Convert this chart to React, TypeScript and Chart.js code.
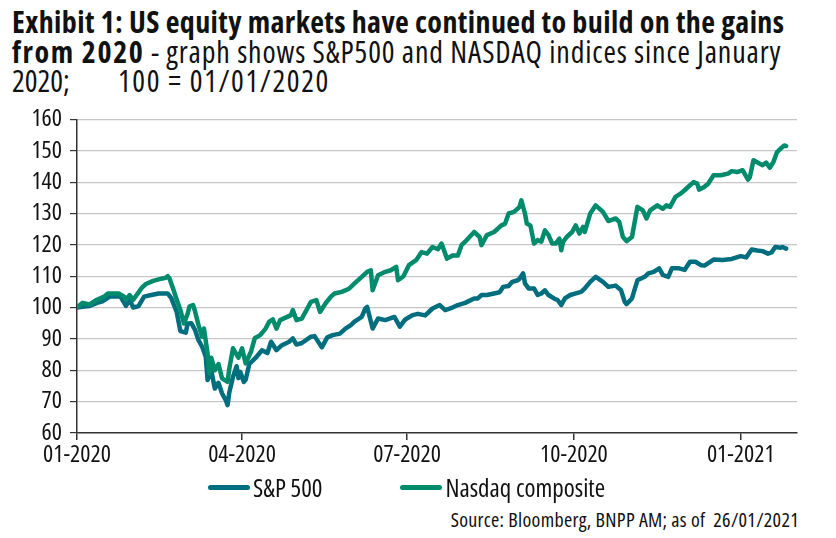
import React, { useEffect, useRef } from "react";
import { Chart, registerables } from "chart.js";

Chart.register(...registerables);

// x axis: days since 01/01/2020
const tickDays = [0, 91, 182, 274, 366];
const tickLabels = ["01-2020", "04-2020", "07-2020", "10-2020", "01-2021"];
const yMin = 60;
const yMax = 160;
const yStep = 10;

const seriesNames = ["S&P 500", "Nasdaq composite"];

const spDays = [
  0, 4, 7, 11, 14, 18, 24, 27, 29, 31, 34, 37, 41, 45, 50, 52, 55, 57, 60, 61,
  63, 65, 67, 69, 71, 72, 74, 76, 78, 80, 82, 83, 84, 86, 88, 89, 90, 92, 93, 95,
  99, 102, 105, 107, 110, 113, 117, 119, 121, 124, 129, 131, 135, 138, 141, 145, 148, 151, 153, 157,
  159, 160, 163, 166, 170, 175, 178, 181, 185, 188, 192, 196, 200, 203, 207, 210, 214, 219, 221, 223,
  226, 230, 233, 235, 238, 240, 243, 244, 246, 247, 249, 252, 254, 256, 258, 260, 263, 265, 267, 269,
  272, 275, 278, 280, 283, 286, 290, 293, 297, 300, 302, 303, 306, 309, 313, 315, 318, 321, 323, 326,
  328, 332, 335, 338, 341, 344, 346, 351, 356, 361, 366, 369, 372, 375, 378, 381, 383, 385, 388, 389,
  391,
];
const spValues = [
  100, 100.3, 100.5, 101.5, 102, 103.5, 103.5, 100.5, 102.5, 100, 100.5, 103.5, 104, 104.5, 104.5, 103, 98.5, 92.5, 92, 94.9,
  95, 93, 89.6, 87.5, 84.3, 76.9, 80, 74.2, 76, 72.6, 70.5, 68.9, 73, 77.9, 81.3, 77.5, 79.5, 76.3, 77, 82,
  84.3, 86.4, 85.5, 89.1, 86.4, 88, 89.1, 90.2, 88.2, 88.7, 90.7, 90.9, 87.3, 90.5, 91.2, 91.7, 93.3, 94.4, 95.5, 97,
  99.7, 100.2, 93.3, 96.5, 96, 97, 93.9, 96.2, 97.6, 98, 97.5, 99.7, 100.8, 99.2, 100, 100.8, 101.5, 102.9, 102.9, 104,
  104, 104.5, 104.9, 106.6, 106.9, 108.2, 108.7, 109.2, 110.9, 107.7, 106.1, 106.1, 104, 104.5, 105.5, 104, 102.9, 102.4, 100.8, 102.9,
  104, 104.5, 105, 106.1, 108.2, 109.8, 108.2, 106.6, 107, 105.5, 101.8, 101.1, 102.9, 108.7, 109.8, 110.9, 111.4, 112.5, 110.4, 109.8,
  112.5, 112.5, 112, 114.6, 114.6, 113.5, 113.4, 115.3, 115.2, 115.5, 116.4, 116, 118.5, 118.2, 118, 117.2, 117.6, 119.3, 119.1, 119.3,
  118.8,
];

const nqDays = [
  0, 3, 7, 11, 15, 17, 23, 26, 27, 29, 31, 36, 38, 42, 45, 49, 50, 51, 53, 55,
  57, 59, 61, 62, 64, 65, 67, 69, 70, 72, 73, 74, 76, 78, 80, 83, 84, 86, 89, 91,
  93, 96, 98, 101, 104, 106, 108, 110, 112, 115, 118, 119, 121, 124, 129, 132, 134, 137, 140, 142,
  146, 150, 153, 157, 160, 162, 163, 166, 170, 173, 176, 177, 180, 183, 187, 190, 193, 196, 199, 201,
  204, 207, 210, 212, 214, 219, 222, 223, 226, 230, 234, 236, 238, 241, 244, 245, 247, 248, 250, 252,
  254, 256, 258, 260, 262, 264, 266, 267, 268, 270, 273, 275, 277, 279, 280, 283, 286, 290, 293, 297,
  299, 301, 303, 306, 309, 312, 314, 316, 320, 323, 325, 327, 330, 333, 335, 338, 340, 342, 343, 346,
  348, 351, 355, 359, 361, 364, 367, 370, 371, 373, 376, 378, 380, 382, 384, 386, 388, 390, 391,
];
const nqValues = [
  100, 101.5, 101, 102.5, 103.5, 104.5, 104.5, 103.5, 102.5, 104, 102.5, 106.5, 107.5, 108.5, 109, 109.5, 110, 109.3, 106, 102.5,
  99.2, 94.9, 98, 100.3, 100.8, 99, 94.4, 90.7, 93.3, 85.4, 79, 84, 80, 82, 77.4, 76.3, 80.6, 87, 84, 87,
  82.2, 86, 90.2, 91.2, 93.3, 95.5, 96.2, 93.3, 96, 96.8, 97.6, 99.2, 96, 96.5, 101.8, 102.4, 98.6, 101.3, 103.5, 104.5,
  105, 106, 107.7, 109.8, 111.4, 111.9, 105.5, 110.3, 111.4, 111.9, 113, 108.7, 110, 113.5, 115.1, 117.7, 117.2, 119.3, 118.6, 120.4,
  115.6, 116.6, 116.6, 119.9, 121, 124.1, 122.5, 119.9, 123.1, 124.1, 126.2, 126.7, 130, 130.5, 132.1, 134.2, 130, 126.8, 126.2, 120.4,
  121.5, 121, 124.6, 123.1, 120.4, 120.4, 122, 118.3, 120.9, 122.5, 124.1, 126.2, 123.6, 125.7, 124.1, 130, 132.6, 130.5, 127.6, 128.4,
  127.3, 122.5, 121.2, 122.5, 132.1, 131, 128.4, 131, 132.6, 131.5, 132.6, 132.1, 135.3, 136.4, 137.4, 139, 140, 139.5, 137.6, 138.5,
  139.5, 142.2, 142.2, 142.7, 143.5, 143.2, 143.8, 140.8, 141.6, 147, 146, 145.4, 146.2, 144.6, 146.4, 149.6, 150.7, 151.7, 151.5,
];

const spColor = "#006e7e";
const nqColor = "#008b6d";
const FAMILY = '"Open Sans", "DejaVu Sans Condensed", sans-serif';

export default function App() {
  const canvasRef = useRef<HTMLCanvasElement | null>(null);

  useEffect(() => {
    const canvas = canvasRef.current;
    if (!canvas) return;
    const tickFont = { family: FAMILY, size: 24, weight: "condensed" as any };
    const chart = new Chart(canvas, {
      type: "line",
      data: {
        datasets: [
          {
            label: seriesNames[0],
            data: spDays.map((d, i) => ({ x: d, y: spValues[i] })),
            borderColor: spColor,
            backgroundColor: spColor,
            borderWidth: 4.5,
            pointRadius: 0,
            tension: 0,
            borderJoinStyle: "round",
            borderCapStyle: "round",
            order: 1,
          },
          {
            label: seriesNames[1],
            data: nqDays.map((d, i) => ({ x: d, y: nqValues[i] })),
            borderColor: nqColor,
            backgroundColor: nqColor,
            borderWidth: 4.5,
            pointRadius: 0,
            tension: 0,
            borderJoinStyle: "round",
            borderCapStyle: "round",
            order: 0,
          },
        ],
      },
      options: {
        animation: false,
        responsive: false,
        maintainAspectRatio: false,
        layout: { padding: { top: 17, right: 39, left: 0, bottom: 0 } },
        plugins: {
          legend: { display: false },
          tooltip: { enabled: false },
          title: { display: false },
        },
        scales: {
          x: {
            type: "linear",
            min: 0,
            max: 397,
            afterBuildTicks: (scale: any) => {
              scale.ticks = tickDays.map((v) => ({ value: v }));
            },
            afterFit: (scale: any) => {
              scale.height = 42;
            },
            ticks: {
              autoSkip: false,
              maxRotation: 0,
              minRotation: 0,
              padding: 1,
              color: "#111111",
              font: tickFont,
              callback: (v: any) => {
                const i = tickDays.indexOf(Number(v));
                return i >= 0 ? tickLabels[i] : "";
              },
            },
            grid: {
              drawOnChartArea: false,
              drawTicks: true,
              tickLength: 7,
              color: "#333333",
              lineWidth: 1.5,
            },
            border: { display: true, color: "#333333", width: 1.5 },
          },
          y: {
            type: "linear",
            min: yMin,
            max: yMax,
            afterFit: (scale: any) => {
              scale.width = 77;
            },
            ticks: {
              stepSize: yStep,
              autoSkip: false,
              maxTicksLimit: 20,
              padding: 8,
              color: "#111111",
              font: tickFont,
            },
            grid: {
              color: (ctx: any) => (ctx.tick && ctx.tick.value === yMin ? "rgba(0,0,0,0)" : "#c6c6c6"),
              lineWidth: 1.2,
              drawTicks: true,
              tickLength: 7,
              tickColor: "#333333",
            },
            border: { display: true, color: "#333333", width: 1.5 },
          },
        },
      },
    });
    return () => chart.destroy();
  }, []);

  const boldStyle: React.CSSProperties = { fontWeight: 700, letterSpacing: "0.4px" };
  const legendLine = (c: string): React.CSSProperties => ({
    display: "inline-block",
    width: 42,
    height: 5,
    borderRadius: 3,
    background: c,
    verticalAlign: "middle",
    marginRight: 3,
  });

  return (
    <div
      style={{
        position: "absolute",
        left: 0,
        top: 0,
        width: 836,
        height: 538,
        background: "#ffffff",
        fontFamily: FAMILY,
        fontStretch: "condensed",
        color: "#111111",
        overflow: "hidden",
      }}
    >
      <div
        style={{
          position: "absolute",
          left: 12,
          top: 7,
          width: 824,
          fontSize: 30,
          lineHeight: "29.5px",
          whiteSpace: "pre",
        }}
      >
        <div>
          <span style={boldStyle}>Exhibit 1: US equity markets have continued to build on the gains</span>
        </div>
        <div>
          <span style={{ fontWeight: 700, letterSpacing: "1.6px" }}>from 2020</span>
          <span style={{ letterSpacing: "0.85px" }}> - graph shows S&amp;P500 and NASDAQ indices since January</span>
        </div>
        <div>
          <span style={{ display: "inline-block", width: 106 }}>2020;</span>
          <span style={{ letterSpacing: "1.6px" }}>100 = 01/01/2020</span>
        </div>
      </div>
      <canvas
        ref={canvasRef}
        width={836}
        height={378}
        style={{ position: "absolute", left: 0, top: 97, width: 836, height: 378 }}
      />
      <div
        style={{
          position: "absolute",
          left: 208,
          top: 469,
          fontSize: 25,
          lineHeight: "30px",
          whiteSpace: "pre",
        }}
      >
        <span style={legendLine(spColor)} />
        <span style={{ verticalAlign: "middle" }}>{seriesNames[0]}</span>
        <span style={{ display: "inline-block", width: 78 }} />
        <span style={legendLine(nqColor)} />
        <span style={{ verticalAlign: "middle" }}>{seriesNames[1]}</span>
      </div>
      <div
        style={{
          position: "absolute",
          right: 37,
          top: 507,
          fontSize: 20,
          letterSpacing: "0.3px",
          lineHeight: "26px",
          whiteSpace: "pre",
        }}
      >
        Source: Bloomberg, BNPP AM; as of  26/01/2021
      </div>
    </div>
  );
}
